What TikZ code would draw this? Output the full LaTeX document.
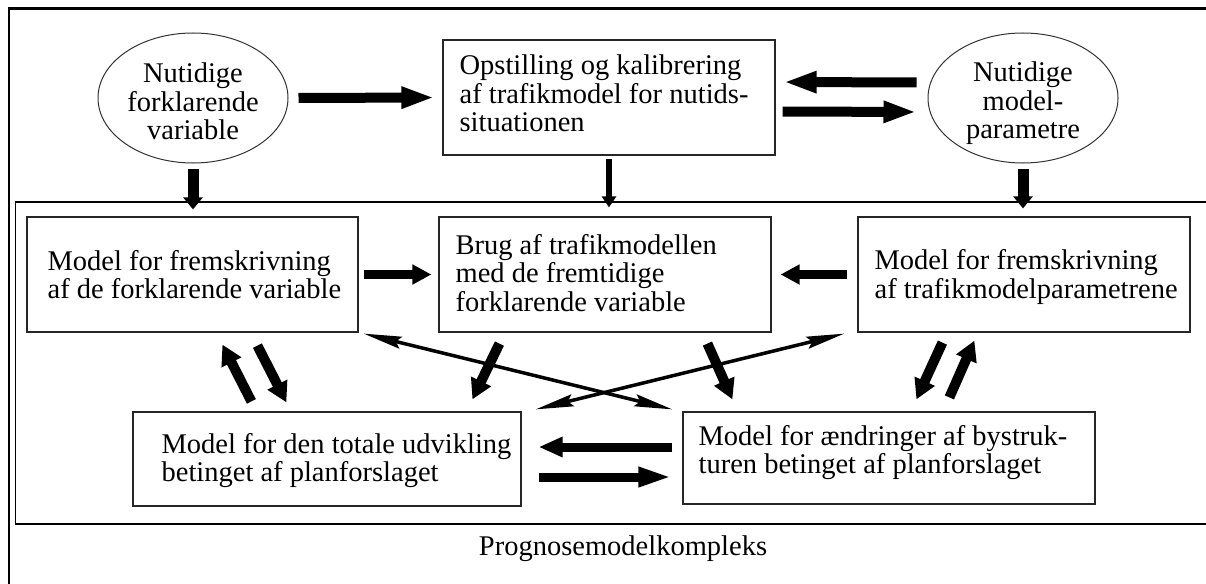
\documentclass[tikz,border=0pt]{standalone}
\usepackage{fontspec}
\setmainfont{Liberation Serif}
\usetikzlibrary{arrows.meta,shapes.geometric,calc}
\begin{document}
\begin{tikzpicture}[x=1pt,y=-1pt,
  font=\fontsize{28.5}{28.5}\selectfont,
  boxnode/.style={draw=black!85,line width=1.2pt,rectangle,inner sep=0pt},
  ell/.style={draw=black!80,line width=1pt,ellipse,minimum width=190pt,minimum height=130pt,inner sep=0pt},
  txt/.style={inner sep=0pt,align=left,anchor=west},
  ctxt/.style={inner sep=0pt,align=center},
  bigarrow/.style={line width=10pt,-{Triangle[length=33pt,width=20pt]}},
  midarrow/.style={line width=9pt,-{Triangle[length=19pt,width=19pt]}},
  vdown/.style={line width=11pt,-{Triangle[length=12pt,width=19pt]}},
  vthin/.style={line width=6.5pt,-{Triangle[length=11pt,width=14pt]}},
  diag/.style={line width=10pt,-{Triangle[length=20pt,width=21pt]}},
  thinarrow/.style={line width=3.5pt,{Stealth[length=38pt,width=12pt,inset=5pt]}-{Stealth[length=38pt,width=12pt,inset=5pt]}}
]
\useasboundingbox (0,0) rectangle (1206,583);
\fill[white] (0,0) rectangle (1206,583);
\clip (0,0) rectangle (1206,583);

% frames
\draw[line width=2.2pt] (9,600) -- (9,8.5) -- (1220,8.5);
\draw[line width=1.2pt] (1220,202) -- (15.5,202) -- (15.5,524) -- (1220,524);

% ellipses
\node[ell] (e1) at (193,98) {};
\node[ctxt] (e1t) at ($(e1)+(0,3.75)$) {Nutidige\\forklarende\\variable};
\node[ell] (e2) at (1023,98) {};
\node[ctxt] (e2t) at ($(e2)+(0,5.5)$) {Nutidige\\model-\\parametre};

% boxes
\node[boxnode,minimum width=332pt,minimum height=115pt] (B1) at (609,97.5) {};
\node[txt] (B1t) at ($(B1.west)+(17,-3.75)$) {Opstilling og kalibrering\\af trafikmodel for nutids-\\situationen};

\node[boxnode,minimum width=331pt,minimum height=115pt] (L) at (192.5,274.5) {};
\node[txt] (Lt) at ($(L.west)+(21,0)$) {Model for fremskrivning\\af de forklarende variable};

\node[boxnode,minimum width=332pt,minimum height=115pt] (M) at (605,274.5) {};
\node[txt] (Mt) at ($(M.west)+(17,-1.75)$) {Brug af trafikmodellen\\med de fremtidige\\forklarende variable};

\node[boxnode,minimum width=332pt,minimum height=115pt] (R) at (1024,274.5) {};
\node[txt] (Rt) at ($(R.west)+(17,2.6)$) {Model for fremskrivning\\af trafikmodelparametrene};

\node[boxnode,minimum width=388pt,minimum height=94pt] (BL) at (327,459) {};
\node[txt] (BLt) at ($(BL.west)+(29,1.6)$) {Model for den totale udvikling\\betinget af planforslaget};

\node[boxnode,minimum width=412pt,minimum height=92pt] (BR) at (889,458) {};
\node[txt] (BRt) at ($(BR.west)+(16,-5.6)$) {Model for ændringer af bystruk-\\turen betinget af planforslaget};

\node[anchor=base,inner sep=0pt] (lbl) at (623,555) {Prognosemodelkompleks};

% top row arrows
\draw[bigarrow,shorten <=10pt,shorten >=8pt] (e1.east) -- (B1.west);
\draw[bigarrow,shorten <=11pt,shorten >=8pt] ([yshift=15.5pt]e2.west) -- ([yshift=15.5pt]B1.east);
\draw[bigarrow,shorten <=7pt,shorten >=11pt] ([yshift=-14pt]B1.east) -- ([yshift=-14pt]e2.west);

% vertical arrows
\draw[vdown,shorten <=5pt,shorten >=7pt] (e1.south) -- (e1.south |- L.north);
\draw[vthin,shorten <=3pt,shorten >=9pt] (B1.south) -- (B1.south |- M.north);
\draw[vdown,shorten <=5pt,shorten >=8pt] (e2.south) -- (e2.south |- R.north);

% middle row arrows
\draw[midarrow,shorten <=5pt,shorten >=7pt] (L.east) -- (M.west);
\draw[midarrow,shorten <=10pt,shorten >=9pt] (R.west) -- (M.east);

% bottom row arrows
\draw[line width=9pt,-{Triangle[length=24pt,width=19pt]},shorten <=10pt,shorten >=17pt] ([yshift=11pt]BR.west) -- ([yshift=11pt]BR.west -| BL.east);
\draw[line width=9pt,-{Triangle[length=34pt,width=18pt]},shorten <=17pt,shorten >=10pt] ([yshift=-19pt]BR.west -| BL.east) -- ([yshift=-19pt]BR.west);

% diagonal arrows, left pair
\draw[diag] ($(BL.north west)+(119,-10)$) -- ($(L.south west)+(196,12)$);
\draw[diag] ($(L.south west)+(231,13)$) -- ($(BL.north west)+(154,-9)$);
% from the middle box
\draw[diag] ($(M.south west)+(61,11)$) -- ($(BL.north west)+(340,-12)$);
\draw[diag] ($(M.south west)+(269,11)$) -- ($(BR.north west)+(50,-12)$);
% right pair
\draw[diag] ($(R.south west)+(85,10)$) -- ($(BR.north west)+(234,-12)$);
\draw[diag] ($(BR.north west)+(267,-14)$) -- ($(R.south west)+(117,8)$);

% thin crossing arrows
\draw[thinarrow] ($(L.south east)+(5,1)$) -- ($(BR.north west)+(-10,-2)$);
\draw[thinarrow] ($(R.south west)+(-13,1)$) -- ($(BL.north east)+(14,-2)$);
\end{tikzpicture}
\end{document}
